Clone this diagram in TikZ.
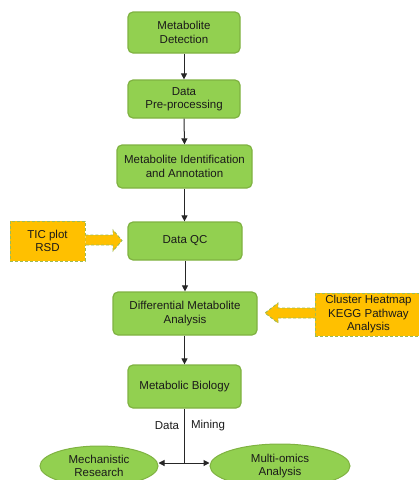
\documentclass[tikz,border=0pt]{standalone}
\usepackage{fontspec}
\setmainfont{Liberation Sans}
\usetikzlibrary{arrows.meta,shapes.geometric}
\definecolor{gfill}{HTML}{92D050}
\definecolor{gline}{HTML}{7FB241}
\definecolor{ofill}{HTML}{FFC000}
\definecolor{odash}{HTML}{9BBB59}
\definecolor{txt}{HTML}{1A1A1A}
\tikzset{
  gbox/.style={draw=gline, line width=1.2pt, fill=gfill, rounded corners=5pt, align=center,
    text=txt, font=\fontsize{11.5}{13.5}\selectfont, inner sep=0pt},
  obox/.style={draw=odash, dashed, dash pattern=on 3pt off 2pt, line width=0.9pt, fill=ofill, align=center,
    text=txt, font=\fontsize{11.5}{13.5}\selectfont, inner sep=0pt},
  gell/.style={ellipse, draw=gline, line width=1pt, fill=gfill, align=center,
    text=txt, font=\fontsize{11.5}{13.5}\selectfont, inner sep=0pt},
  blk/.style={fill=ofill, draw=odash, dash pattern=on 3pt off 2pt, line width=0.9pt},
  conn/.style={draw=black!85, line width=1pt, -{Triangle[length=6pt,width=6pt]}},
  lbl/.style={text=txt, font=\fontsize{11.5}{13.5}\selectfont, inner sep=0pt}
}
\begin{document}
\begin{tikzpicture}[x=1pt,y=-1pt]
\useasboundingbox (0,0) rectangle (419,480);
\begin{scope}
\clip (0,0) rectangle (419,480);
\node[gbox, minimum width=112pt, minimum height=41pt] (b1) at (184,32.5) {Metabolite\\Detection};
\node[gbox, minimum width=112pt, minimum height=38pt] (b2) at (184,99) {Data\\Pre-processing};
\node[gbox, minimum width=135pt, minimum height=43pt] (b3) at (184.5,166.5) {Metabolite Identification\\and Annotation};
\node[gbox, minimum width=114pt, minimum height=38pt] (b4) at (185,241) {Data QC};
\node[gbox, minimum width=144pt, minimum height=43pt] (b5) at (185,313.5) {Differential Metabolite\\Analysis};
\node[gbox, minimum width=113pt, minimum height=43pt] (b6) at (184.5,386.5) {Metabolic Biology};

\node[obox, minimum width=75pt, minimum height=40pt] (tic) at (47.5,241) {TIC plot\\RSD};
\node[obox, minimum width=106pt, minimum height=43pt, anchor=west] (clu) at (315,314.5) {Cluster Heatmap\\KEGG Pathway\\Analysis};

% block arrows
\path[blk] (tic.east |- 0,235) -- (113,235) -- (113,230) -- (122,240.5) -- (113,251) -- (113,245) -- (tic.east |- 0,245);
\path[blk] (clu.west |- 0,308) -- (278,308) -- (278,303) -- (265,313) -- (278,323) -- (278,318) -- (clu.west |- 0,318);

\node[gell, minimum width=118pt, minimum height=40pt] (mr) at (99,466) {Mechanistic\\Research};
\node[gell, minimum width=140pt, minimum height=44pt] (mo) at (280,466) {Multi-omics\\Analysis};

\draw[conn] (b1.south) -- (b2.north);
\draw[conn] (b2.south) -- (b3.north);
\draw[conn] (b3.south) -- (b4.north -| b3.south);
\draw[conn] (b4.south -| b5.north) -- (b5.north);
\draw[conn] (b5.south -| b6.north) -- (b6.north);

\coordinate (j) at (184.5,463);
\draw[draw=black!85, line width=1pt] (b6.south) -- (j);
\draw[conn] (j) -- (mr.east |- j);
\draw[conn] (j) -- (mo.west |- j);

\node[lbl] (d) at (167,426) {Data};
\node[lbl] (m) at (208,426) {Mining};
\end{scope}
\end{tikzpicture}
\end{document}
